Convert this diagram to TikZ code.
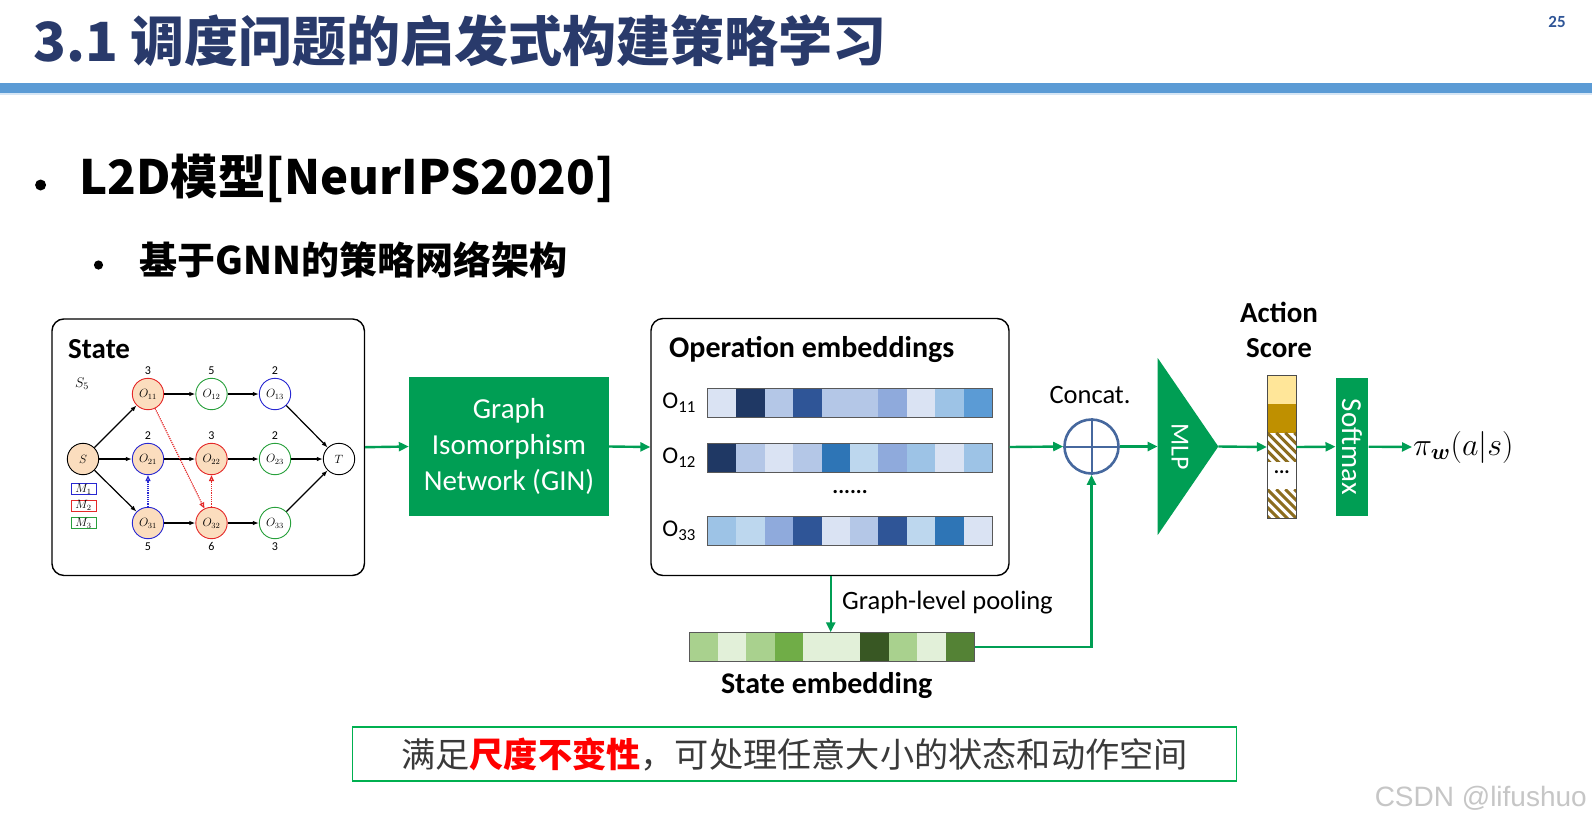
\RequirePackage{fix-cm}
\documentclass[tikz,border=0pt]{standalone}
\usepackage{amsmath}
\usepackage{graphicx}
\usepackage{fontspec}
\setmainfont{Carlito}
\newfontfamily\cjk{Noto Sans CJK SC}
\newfontfamily\wmfont{Liberation Sans}
\usetikzlibrary{arrows.meta,calc,positioning}

% slide colours
\definecolor{navy}{RGB}{41,58,107}
\definecolor{barblue}{RGB}{91,155,213}
\definecolor{pagenum}{RGB}{47,85,151}
\definecolor{gin}{RGB}{0,158,84}
\definecolor{ring}{RGB}{70,104,158}
\definecolor{peach}{RGB}{251,221,190}
\definecolor{gred}{RGB}{228,40,40}
\definecolor{ggreen}{RGB}{40,160,60}
\definecolor{gblue}{RGB}{40,40,210}
\definecolor{notegreen}{RGB}{0,176,80}
\definecolor{darktext}{RGB}{58,58,58}
% embedding shades
\definecolor{eb1}{HTML}{DAE3F3}
\definecolor{eb2}{HTML}{1F3864}
\definecolor{eb3}{HTML}{B4C7E7}
\definecolor{eb4}{HTML}{2F5597}
\definecolor{eb5}{HTML}{8FAADC}
\definecolor{eb6}{HTML}{9DC3E6}
\definecolor{eb7}{HTML}{5B9BD5}
\definecolor{eb8}{HTML}{2E75B6}
\definecolor{eb9}{HTML}{BDD7EE}
\definecolor{sg1}{HTML}{A9D18E}
\definecolor{sg2}{HTML}{E2F0D9}
\definecolor{sg3}{HTML}{70AD47}
\definecolor{sg4}{HTML}{385723}
\definecolor{sg5}{HTML}{548235}
% action score
\definecolor{sc1}{HTML}{FFE699}
\definecolor{sc2}{HTML}{BF9000}
\definecolor{hatch}{HTML}{8C6D1F}

\begin{document}
\begin{tikzpicture}[x=1pt,y=-1pt,
  flow/.style={draw=gin, line width=2.4pt, -{Triangle[length=10pt,width=9pt]}},
  jobop/.style={circle, draw, line width=0.9pt, minimum size=31.4pt, inner sep=0pt, font=\fontsize{12}{14}\selectfont},
  prec/.style={-{Latex[length=6pt,width=4.5pt]}, line width=1.2pt},
  disj/.style={densely dotted, line width=1.2pt, -{Triangle[open,length=6pt,width=5pt]}},
  mach/.style={draw, line width=0.8pt, minimum width=25pt, minimum height=11pt, inner sep=0pt, font=\fontsize{12}{13}\selectfont},
  dur/.style={font=\fontsize{12}{14}\selectfont, inner sep=0pt},
  lbl/.style={font=\fontsize{30}{35}\selectfont\bfseries, inner sep=0pt},
  panel/.style={draw, fill=white, rounded corners=12pt, line width=1.4pt, inner sep=0pt},
  greenbox/.style={fill=gin, text=white, inner sep=0pt},
  cellrow/.style={draw=gray!70!black, line width=0.8pt, inner sep=0pt}]
\useasboundingbox (0,0) rectangle (1592,825);
\fill[white] (0,0) rectangle (1592,825);

% Title
\node[anchor=west, inner sep=0pt, text=navy, font=\fontsize{54}{60}\selectfont\cjk\bfseries] (title) at (33,41) {3.1 调度问题的启发式构建策略学习};
\node[inner sep=0pt, text=pagenum, font=\fontsize{17}{20}\selectfont\bfseries] (page) at (1557,22) {25};
\fill[barblue] (0,83) rectangle (1592,93);
\fill[barblue!25] (0,93) rectangle (1592,95);

% Bullets
\fill (40.6,185) circle (5.5pt);
\node[anchor=west, inner sep=0pt, font=\fontsize{47.3}{54}\selectfont\cjk\bfseries] (l2d) at (79,178) {L2D模型[NeurIPS2020]};
\fill (98.5,265) circle (4.6pt);
\node[anchor=west, inner sep=0pt, font=\fontsize{38}{44}\selectfont\cjk\bfseries] (gnn) at (139,260) {基于GNN的策略网络架构};

% State panel
\node[panel, minimum width=312.5pt, minimum height=256.5pt] (state) at (208.2,447.2) {};
\node[lbl, anchor=west, font=\fontsize{29}{35}\selectfont\bfseries] (statelbl) at (68,349) {State};
\node[font=\fontsize{14}{16}\selectfont] (s5) at (82,384) {$S_5$};
\node[jobop, fill=peach] (s) at (83,459) {$S$};
\node[jobop] (t) at (339,459) {$T$};
\foreach \i/\x/\y/\col/\f in {11/148/394/gred/peach, 12/211.5/394/ggreen/white, 13/275/394/gblue/white,
  21/148/459/gblue/peach, 22/211.5/459/gred/peach, 23/275/459/ggreen/white,
  31/148/523/gblue/peach, 32/211.5/523/gred/peach, 33/275/523/ggreen/white}
  \node[jobop, draw=\col, fill=\f] (o\i) at (\x,\y) {$O_{\i}$};
\foreach \i/\d in {11/3,12/5,13/2,21/2,22/3,23/2}
  \node[dur, above=3.5pt of o\i] (d\i) {\d};
\foreach \i/\d in {31/5,32/6,33/3}
  \node[dur, below=3.5pt of o\i] (d\i) {\d};
\foreach \k/\y/\col in {1/489/gblue,2/505.7/gred,3/523/ggreen}
  \node[mach, draw=\col] (m\k) at (83.5,\y) {$M_{\k}$};
\foreach \a/\b in {s/o11,s/o21,s/o31,o11/o12,o12/o13,o13/t,o21/o22,o22/o23,o23/t,o31/o32,o32/o33,o33/t}
  \draw[prec] (\a) -- (\b);
\draw[disj, draw=gblue] (o31) -- (o21);
\draw[disj, draw=gred] (o11) -- (o32);
\draw[disj, draw=gred] (o32) -- (o22);

% GIN
\node[greenbox, minimum width=200pt, minimum height=139pt, align=center, font=\fontsize{29}{36}\selectfont] (gin) at (509,446.5) {Graph\\Isomorphism\\Network (GIN)};
\draw[flow] (state.east) -- (gin.west);

% Operation embeddings
\node[panel, minimum width=358pt, minimum height=257pt] (ops) at (830,447) {};
\node[lbl, anchor=west] (opslbl) at (669,349) {Operation embeddings};
\draw[flow] (gin.east) -- (ops.west);
\foreach \r/\y/\cols in {11/403/{eb1,eb2,eb3,eb4,eb3,eb3,eb5,eb1,eb6,eb7},
  12/458/{eb2,eb3,eb1,eb3,eb8,eb9,eb5,eb6,eb1,eb6},
  33/530.7/{eb6,eb9,eb5,eb4,eb1,eb3,eb4,eb9,eb8,eb1}}{
  \foreach \col [count=\k from 0] in \cols
    \fill[\col] ({707.7+28.46*\k},\y-14.3) rectangle ++(28.46,28.6);
  \node[cellrow, minimum width=284.6pt, minimum height=28.6pt] (emb\r) at (850,\y) {};
  \node[anchor=east, inner sep=0pt, font=\fontsize{24}{28}\selectfont] (lab\r) at (696,\y) {O\textsubscript{\r}};
}
\node[inner sep=0pt, font=\bfseries\fontsize{22}{24}\selectfont] (vdots) at (850,492) {......};

% State embedding
\foreach \col [count=\k from 0] in {sg1,sg2,sg1,sg3,sg2,sg2,sg4,sg1,sg2,sg5}
  \fill[\col] ({689.3+28.5*\k},632.7) rectangle ++(28.5,28.3);
\node[cellrow, minimum width=285pt, minimum height=28.3pt] (semb) at (831.8,646.85) {};
\node[lbl] (semblbl) at (826.7,686) {State embedding};
\coordinate (poolx) at (830.7,600);
\draw[flow] (ops.south -| poolx) -- (semb.north -| poolx);
\node[anchor=west, inner sep=0pt, font=\fontsize{26.5}{30}\selectfont] (poollbl) at (842,603) {Graph-level pooling};

% Concat
\node[circle, draw=ring, line width=2.6pt, minimum size=54pt, inner sep=0pt] (concat) at (1091.5,446.5) {};
\draw[ring, line width=2pt] (concat.north) -- (concat.south) (concat.west) -- (concat.east);
\node[inner sep=0pt, font=\fontsize{26.5}{30}\selectfont] (concatlbl) at (1090,395) {Concat.};
\draw[flow] (ops.east) -- (concat.west);
\draw[flow] (semb.east) -| (concat.south);

% MLP
\coordinate (mlpin) at (1157.7,446.5);
\coordinate (mlpapex) at (1218.3,446.5);
\fill[gin] (1157.7,358) -- (mlpapex) -- (1157.7,535) -- cycle;
\node[text=white, rotate=-90, inner sep=0pt, font=\fontsize{26}{28}\selectfont] (mlp) at (1180,446.5) {MLP};
\draw[flow] (concat.east) -- (mlpin);

% Action score
\fill[sc1] (1267.3,375.7) rectangle (1296.3,404);
\fill[sc2] (1267.3,404) rectangle (1296.3,432.7);
\foreach \ya/\yb in {432.7/461.7,489.3/518.3}{
  \begin{scope}
    \clip (1267.3,\ya) rectangle (1296.3,\yb);
    \fill[white] (1267.3,\ya) rectangle (1296.3,\yb);
    \foreach \d in {-36,-27,...,27}
      \draw[hatch, line width=3pt] ({1267.3+\d},\ya) -- ++(32,32);
  \end{scope}
}
\node[draw=gray!60!black, line width=0.8pt, minimum width=29pt, minimum height=142.6pt, inner sep=0pt] (score) at (1281.8,447) {};
\node[inner sep=0pt, font=\bfseries\fontsize{20}{22}\selectfont] (sdots) at (1281.8,472) {...};
\node[lbl, align=center, font=\fontsize{29}{35}\selectfont\bfseries] (actlbl) at (1279,330) {Action\\Score};
\draw[flow] (mlpapex) -- (score.west);

% Softmax and policy
\node[greenbox, minimum width=32.6pt, minimum height=138pt, font=\fontsize{29}{32}\selectfont] (softmax) at (1352,446.7) {\rotatebox{-90}{Softmax}};
\node[anchor=west, inner sep=1pt, font=\fontsize{32}{34}\selectfont] (pi) at (1412,447) {$\pi_{\boldsymbol{w}}(a|s)$};
\draw[flow] (score.east) -- (softmax.west);
\draw[flow] (softmax.east) -- (pi.west);

% Note
\node[draw=notegreen, line width=1.3pt, minimum width=884pt, minimum height=54pt, inner sep=0pt, text=darktext, font=\fontsize{34.2}{40}\selectfont\cjk] (note) at (794.5,754) {满足{\bfseries\color{red}尺度不变性}，可处理任意大小的状态和动作空间};

% Watermark
\node[anchor=east, inner sep=0pt, text=gray!45, font=\fontsize{28}{30}\selectfont\wmfont] (wm) at (1587,798) {CSDN @lifushuo};
\end{tikzpicture}
\end{document}
